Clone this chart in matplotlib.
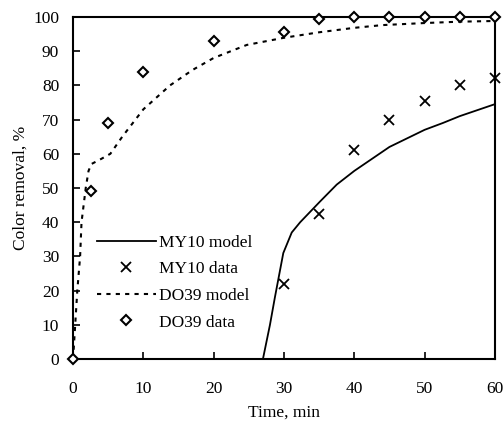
import matplotlib
matplotlib.use("Agg")
import matplotlib.pyplot as plt

# DO39 data
do39_t = [0, 2.5, 5, 10, 20, 30, 35, 40, 45, 50, 55, 60]
do39_y = [0, 49, 69, 84, 93, 95.7, 99.3, 100, 100, 100, 100, 100]
# MY10 data
my10_t = [30, 35, 40, 45, 50, 55, 60]
my10_y = [22, 42.5, 61, 70, 75.5, 80, 82.2]
# DO39 model
do39m_t = [0, 0.3, 0.6, 1.0, 1.2, 1.8, 2.2, 2.6, 4, 5.3, 7, 10, 13.8, 17, 20, 24.7, 30, 35, 40, 44, 50, 55, 60]
do39m_y = [0, 10, 20, 30, 40, 50, 55, 57, 58.5, 60, 65, 73, 80, 84.5, 88, 91.8, 93.9, 95.5, 96.8, 97.6, 98.2, 98.6, 98.8]
# MY10 model
my10m_t = [27, 28, 28.7, 29.9, 31.1, 32.3, 35.1, 37.5, 40, 45, 50, 52.6, 55, 60]
my10m_y = [0, 10, 18, 31, 37, 40, 46, 51, 55, 62, 67, 69, 71, 74.5]

plt.rcParams['font.family'] = ['Liberation Serif', 'DejaVu Serif']
plt.rcParams['font.size'] = 12.5

fig = plt.figure(figsize=(5.04, 4.22), dpi=100)
ax = fig.add_axes([0.145, 0.149, 0.837, 0.811])

ax.plot(my10m_t, my10m_y, color='black', lw=1.3, label='MY10 model')
ax.plot(my10_t, my10_y, linestyle='none', marker='x', color='black', ms=7.5, mew=1.3,
        label='MY10 data', clip_on=False)
ax.plot(do39m_t, do39m_y, color='black', lw=1.5, linestyle=(0, (2, 2.5)), label='DO39 model')
ax.plot(do39_t, do39_y, linestyle='none', marker='D', color='black', mfc='white', ms=5.5,
        mew=1.5, label='DO39 data', clip_on=False, zorder=5)

ax.set_xlim(0, 60)
ax.set_ylim(0, 100)
ax.set_xticks(range(0, 61, 10))
ax.set_yticks(range(0, 101, 10))
ax.tick_params(direction='in', length=5, width=1.2, top=False, right=False)
ax.tick_params(axis='x', pad=16)
ax.tick_params(axis='y', pad=10)
for s in ax.spines.values():
    s.set_linewidth(1.5)
ax.set_xlabel('Time, min', labelpad=5)
ax.set_ylabel('Color removal, %', labelpad=3)

ax.legend(loc='upper left', bbox_to_anchor=(0.04, 0.384), frameon=False, handlelength=3.4,
          handletextpad=0.15, labelspacing=0.6, borderaxespad=0)

fig.savefig('out.png', dpi=100)
